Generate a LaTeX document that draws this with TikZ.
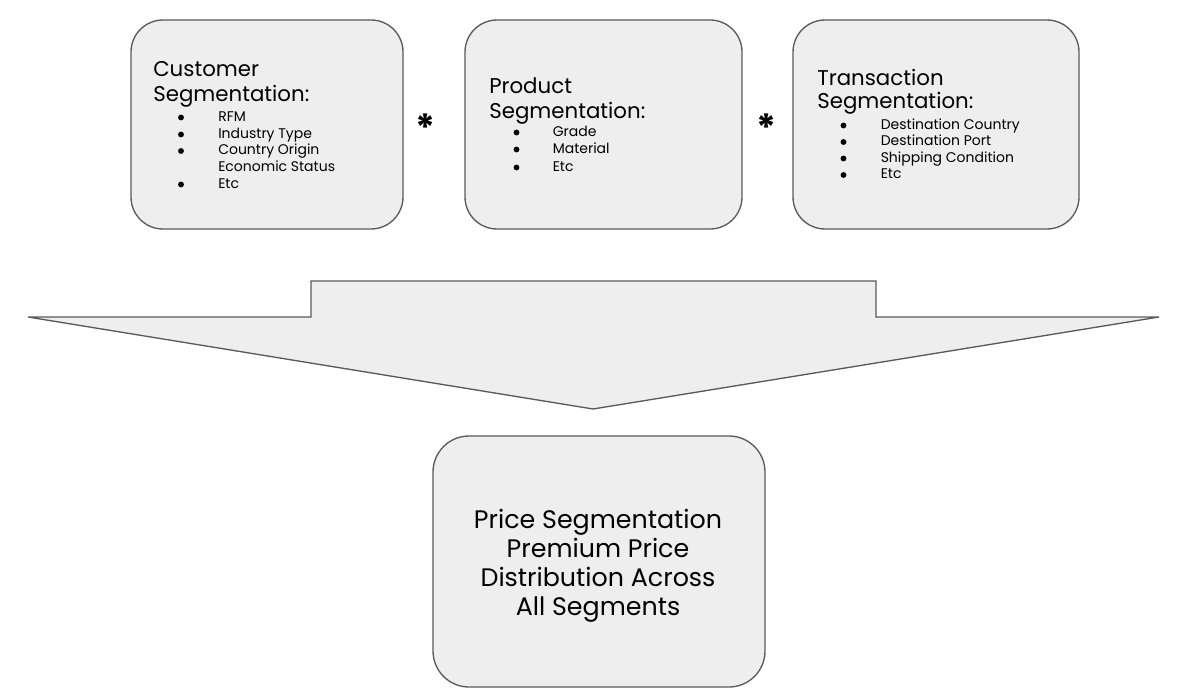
\documentclass[tikz,border=0pt]{standalone}
\usepackage{fontspec}
\setmainfont{Poppins}
\definecolor{boxfill}{HTML}{EEEEEE}
\definecolor{boxline}{HTML}{5A5A5A}
\tikzset{
  segbox/.style={draw=boxline, fill=boxfill, line width=1pt, rounded corners=24pt, inner sep=0pt},
  segtitle/.style={anchor=base west, inner sep=0pt, font=\fontsize{16}{19}\selectfont},
  segitem/.style={anchor=base west, inner sep=0pt, font=\fontsize{10.5}{12.75}\selectfont},
  segdot/.style={circle, fill=black, inner sep=0pt, minimum size=4.4pt},
  timesign/.style={anchor=base, inner sep=0pt, font=\fontsize{28}{28}\selectfont\bfseries},
  pricetext/.style={anchor=base, inner sep=0pt, font=\fontsize{19}{21}\selectfont}
}
\begin{document}
\begin{tikzpicture}[x=0.75pt, y=-0.75pt]
          \useasboundingbox (0,0) rectangle (1203,696);

          % customer segmentation
          \node[segbox, minimum width=204pt, minimum height=156.75pt] (cust) at (267,124.5) {};
          \node[segtitle] (custA) at (153,76.5) {Customer};
          \node[segtitle] (custB) at (153,101.5) {Segmentation:};
          \node[segdot] (custd1) at (181,117.5) {};
          \node[segitem] (custi1) at (218,121) {RFM};
          \node[segdot] (custd2) at (181,134.5) {};
          \node[segitem] (custi2) at (218,138) {Industry Type};
          \node[segdot] (custd3) at (181,151) {};
          \node[segitem] (custi3) at (218,154.5) {Country Origin};
          \node[segitem] (custi4) at (218,171) {Economic Status};
          \node[segdot] (custd5) at (181,184.5) {};
          \node[segitem] (custi5) at (218,188) {Etc};

          \node[timesign] (timesA) at (425,141) {*};

          % product segmentation
          \node[segbox, minimum width=207.75pt, minimum height=156.75pt] (prod) at (603.5,124.5) {};
          \node[segtitle] (prodA) at (489,93) {Product};
          \node[segtitle] (prodB) at (489,118) {Segmentation:};
          \node[segdot] (prodd1) at (516.5,132.5) {};
          \node[segitem] (prodi1) at (552.5,136) {Grade};
          \node[segdot] (prodd2) at (516.5,149.5) {};
          \node[segitem] (prodi2) at (552.5,153) {Material};
          \node[segdot] (prodd3) at (516.5,167.5) {};
          \node[segitem] (prodi3) at (552.5,171) {Etc};

          \node[timesign] (timesB) at (766,141) {*};

          % transaction segmentation
          \node[segbox, minimum width=214.5pt, minimum height=156.75pt] (trans) at (936,124.5) {};
          \node[segtitle] (transA) at (817,85) {Transaction};
          \node[segtitle] (transB) at (817,108) {Segmentation:};
          \node[segdot] (transd1) at (843.5,125.5) {};
          \node[segitem] (transi1) at (880.5,129) {Destination Country};
          \node[segdot] (transd2) at (843.5,142) {};
          \node[segitem] (transi2) at (880.5,145.5) {Destination Port};
          \node[segdot] (transd3) at (843.5,158.5) {};
          \node[segitem] (transi3) at (880.5,162) {Shipping Condition};
          \node[segdot] (transd4) at (843.5,175) {};
          \node[segitem] (transi4) at (880.5,178.5) {Etc};

          % big down arrow
          \draw[draw=boxline, fill=boxfill, line width=1pt, line join=miter]
            (28,317) -- (311,317) -- (311,281) -- (876,281) -- (876,317)
            -- (1159,317) -- (593,409) -- cycle;

          % price segmentation
          \node[segbox, rounded corners=27pt, minimum width=249pt, minimum height=188.25pt] (price) at (599,561.5) {};
          \node[pricetext] (priceA) at (598,528) {Price Segmentation};
          \node[pricetext] (priceB) at (598,557) {Premium Price};
          \node[pricetext] (priceC) at (598,586) {Distribution Across};
          \node[pricetext] (priceD) at (598,615) {All Segments};
        \end{tikzpicture}
\end{document}
